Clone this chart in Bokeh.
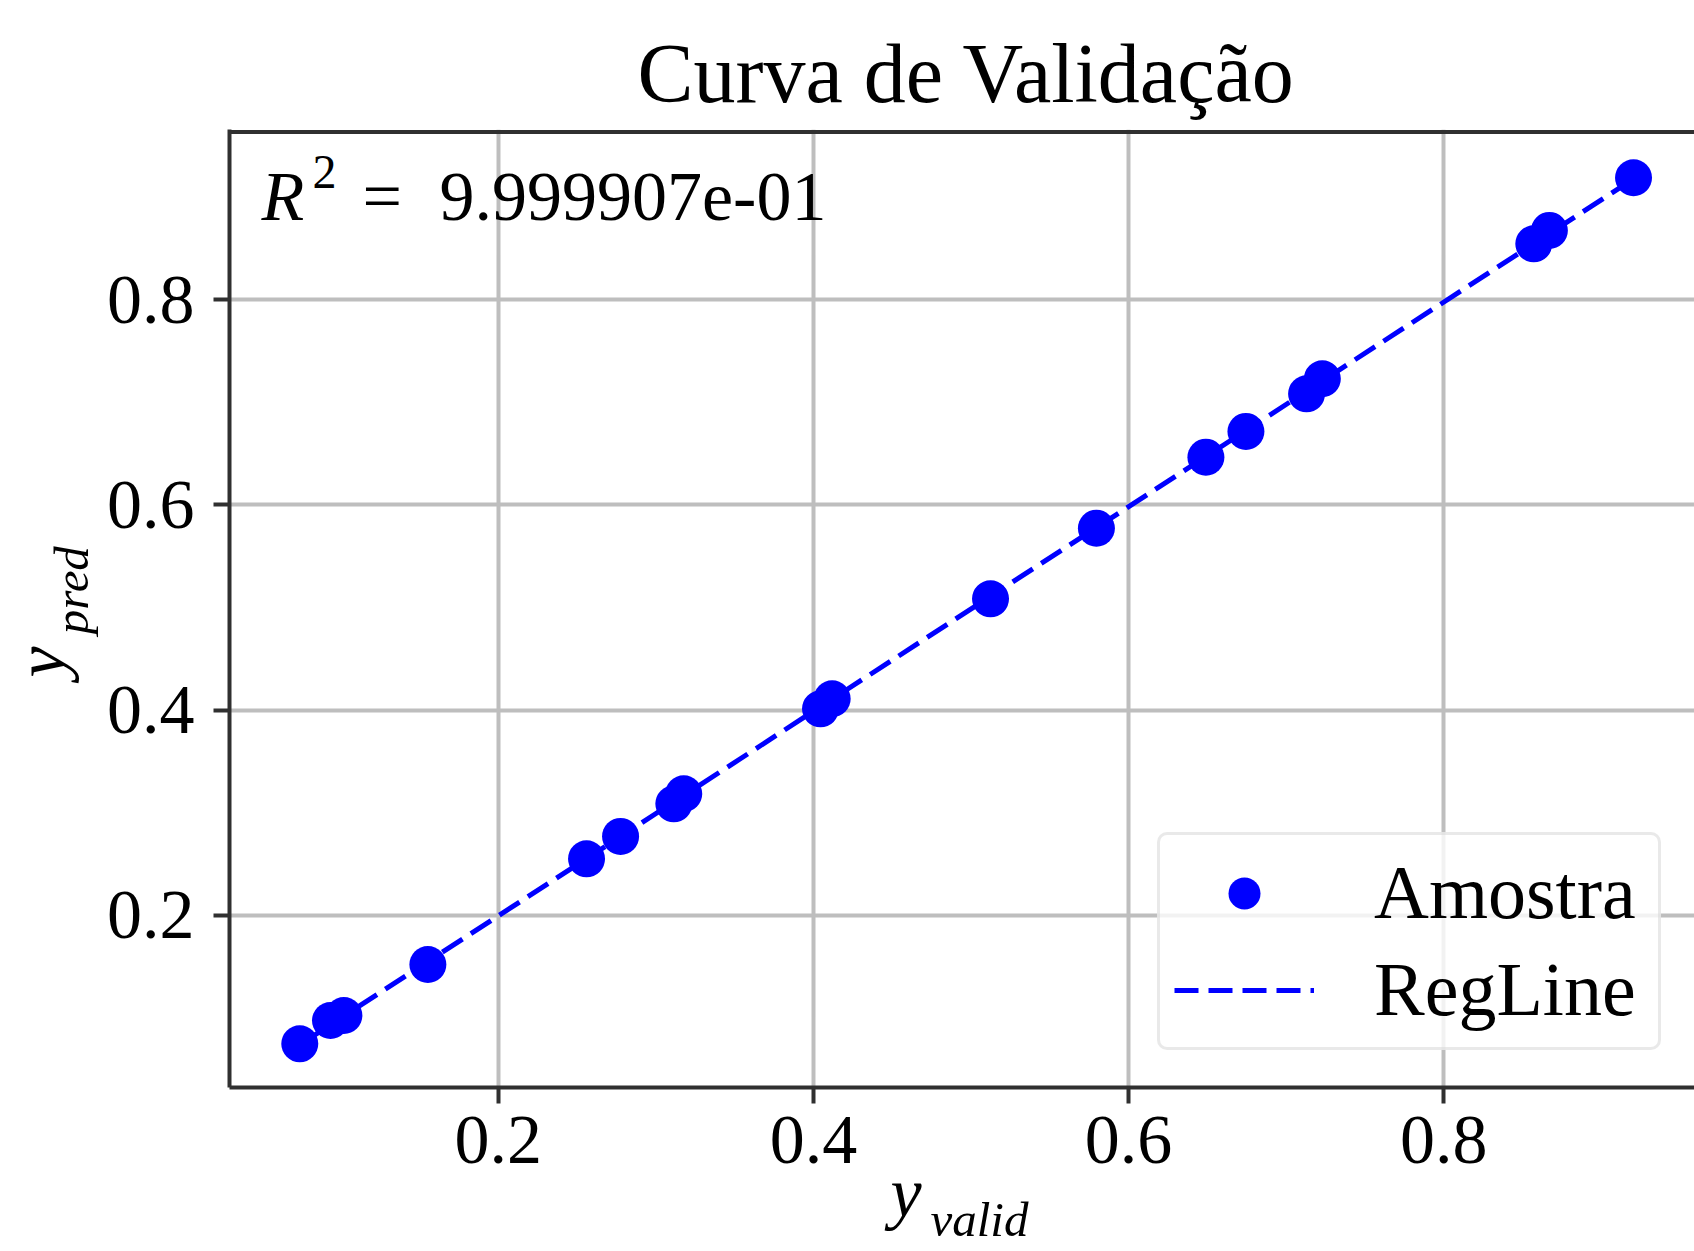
import numpy as np
from bokeh.plotting import figure
from bokeh.models import Range1d, FixedTicker, Label, Span, Legend, LegendItem, Title
from bokeh.embed import file_html
from bokeh.resources import INLINE

# ---------------- data ----------------
title_text = "Curva de Validação"
y_valid = [0.0740, 0.0935, 0.1020, 0.1553, 0.2560, 0.2776, 0.3114, 0.3177,
           0.4045, 0.4119, 0.5124, 0.5796, 0.6491, 0.6745, 0.7130, 0.7230,
           0.8572, 0.8671, 0.9205]
y_pred = [0.0748, 0.0975, 0.1024, 0.1521, 0.2551, 0.2769, 0.3087, 0.3185,
          0.4013, 0.4111, 0.5085, 0.5773, 0.6465, 0.6716, 0.7083, 0.7230,
          0.8545, 0.8675, 0.9189]
ticks = [0.2, 0.4, 0.6, 0.8]
tick_labels = ["0.2", "0.4", "0.6", "0.8"]
r2_text = "9.999907e-01"
legend_labels = ["Amostra", "RegLine"]
x_label = ("y", "valid")
y_label = ("y", "pred")

# regression line fitted on the data
a, b = np.polyfit(y_valid, y_pred, 1)
line_x = [min(y_valid), max(y_valid)]
line_y = [a * v + b for v in line_x]

# ---------------- layout ----------------
W, H = 1694, 1251
ML, MR, MT, MB = 229, 0, 129, 164
x_lo, x_hi = 0.0294, 0.9592
y_lo, y_hi = 0.0322, 0.9659
FL, FT = ML, MT
FW = W - ML - MR
FH = H - MT - MB

def dx(px):
    return x_lo + (px - FL) * (x_hi - x_lo) / FW

def dy(py):
    return y_hi - (py - FT) * (y_hi - y_lo) / FH

SERIF = "Liberation Serif"
DARK = "#303030"

p = figure(width=W, height=H, x_range=Range1d(x_lo, x_hi), y_range=Range1d(y_lo, y_hi),
           output_backend="svg", toolbar_location=None,
           min_border_left=ML, min_border_right=MR, min_border_top=MT, min_border_bottom=MB)
p.outline_line_color = None
p.background_fill_color = "white"
p.border_fill_color = "white"

p.title.text = title_text
p.title.align = "left"
p.title.offset = 408
p.title.text_font = SERIF
p.title.text_font_size = "84px"
p.title.text_font_style = "normal"
p.title.text_color = "black"
p.title.standoff = 19

for ax in (p.xaxis, p.yaxis):
    ax.ticker = FixedTicker(ticks=ticks)
    ax.major_label_overrides = {t: l for t, l in zip(ticks, tick_labels)}
    ax.minor_tick_line_color = None
    ax.major_tick_in = 0
    ax.major_tick_out = 16
    ax.major_tick_line_width = 4
    ax.major_tick_line_color = DARK
    ax.axis_line_width = 4
    ax.axis_line_color = DARK
    ax.major_label_text_font = SERIF
    ax.major_label_text_font_size = "70px"
    ax.major_label_text_color = "black"
p.xaxis.major_label_standoff = 13
p.yaxis.major_label_standoff = 19

# y label: subscript part as the axis label, main letter as a side title
p.yaxis.axis_label = "\u00a0\u00a0\u00a0" + y_label[1]
p.yaxis.axis_label_text_font = SERIF
p.yaxis.axis_label_text_font_size = "49px"
p.yaxis.axis_label_text_font_style = "italic"
p.yaxis.axis_label_text_color = "black"
p.yaxis.axis_label_standoff = 5

p.add_layout(Title(text=y_label[0], align="left", offset=410, vertical_align="bottom",
                   standoff=-77, text_font=SERIF, text_font_size="70px",
                   text_font_style="italic", text_color="black"), "left")

# x label y_valid
p.add_layout(Title(text=x_label[0], align="left", offset=661, vertical_align="bottom",
                   standoff=-28, text_font=SERIF, text_font_size="70px",
                   text_font_style="italic", text_color="black"), "below")
p.add_layout(Title(text=x_label[1], align="left", offset=701, vertical_align="bottom",
                   standoff=-53, text_font=SERIF, text_font_size="49px",
                   text_font_style="italic", text_color="black"), "below")

for g in (p.xgrid, p.ygrid):
    g.grid_line_color = "#bebebe"
    g.grid_line_width = 4

# R^2 annotation
def lab(txt, px, py, size, italic=False):
    p.add_layout(Label(x=dx(px), y=dy(py), text=txt, text_font=SERIF,
                       text_font_size=f"{size}px",
                       text_font_style="italic" if italic else "normal",
                       text_color="black", text_baseline="alphabetic",
                       text_align="left"))

lab("R", 261, 196, 70, italic=True)
lab("2", 312, 171, 48)
lab("=", 362, 196, 70)
lab(r2_text, 439, 196, 70)

pts = p.scatter(y_valid, y_pred, size=37, color="#0000ff", line_color=None)
ln = p.line(line_x, line_y, line_dash="24 10", line_width=5, line_color="#0000ff")

# top spine
p.add_layout(Span(location=dy(131.5), dimension="width", line_color=DARK, line_width=4))

legend = Legend(items=[LegendItem(label=legend_labels[0], renderers=[pts]),
                       LegendItem(label=legend_labels[1], renderers=[ln])],
                location=(928, 37))
legend.glyph_width = 140
legend.glyph_height = 80
legend.label_standoff = 60
legend.label_width = 270
legend.padding = 14
legend.spacing = 10
legend.margin = 0
legend.label_text_font = SERIF
legend.label_text_font_size = "76px"
legend.label_text_color = "black"
legend.border_line_color = "#d4d4d4"
legend.border_line_width = 3
legend.border_radius = 10
legend.background_fill_color = "white"
legend.background_fill_alpha = 0.8
p.add_layout(legend)

with open("out.html", "w", encoding="utf-8") as f:
    f.write(file_html(p, INLINE))
